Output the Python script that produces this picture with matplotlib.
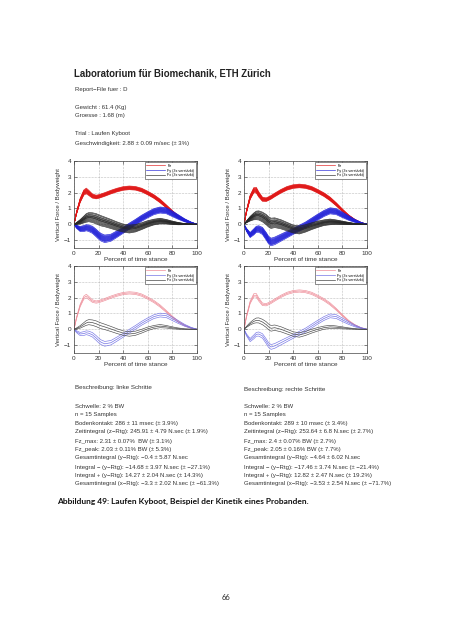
import matplotlib
matplotlib.use("Agg")
from matplotlib import pyplot as plt
import numpy as np

W, H = 453, 640

pct = [0, 2, 5, 8, 10, 12, 15, 18, 20, 22, 25, 30, 35, 40, 45, 50, 55, 60, 65, 70, 75, 80, 85, 90, 95, 100]

# left steps: mean curves (Fy, Fx 3x amplified) in bodyweight
fz_left = [0, 0.7, 1.5, 2.0, 2.1, 1.98, 1.78, 1.72, 1.75, 1.8, 1.88, 2.03, 2.16, 2.26, 2.3,
           2.27, 2.16, 1.97, 1.75, 1.47, 1.13, 0.78, 0.47, 0.24, 0.08, 0]
fy_left = [0, -0.15, -0.3, -0.27, -0.22, -0.25, -0.35, -0.55, -0.7, -0.82, -0.92, -0.85, -0.62,
           -0.38, -0.12, 0.12, 0.38, 0.6, 0.8, 0.9, 0.86, 0.66, 0.45, 0.25, 0.1, 0]
fx_left = [0, 0.05, 0.15, 0.3, 0.4, 0.45, 0.42, 0.35, 0.28, 0.22, 0.15, 0.02, -0.12, -0.24, -0.3,
           -0.25, -0.12, 0.03, 0.14, 0.2, 0.16, 0.09, 0.04, 0.01, 0, 0]

# right steps
fz_right = [0, 0.8, 1.7, 2.15, 2.15, 1.88, 1.58, 1.55, 1.62, 1.7, 1.85, 2.08, 2.27, 2.38, 2.42,
            2.38, 2.27, 2.08, 1.87, 1.6, 1.26, 0.88, 0.53, 0.27, 0.09, 0]
fy_right = [0, -0.35, -0.68, -0.48, -0.32, -0.3, -0.42, -0.75, -1.0, -1.12, -1.05, -0.85, -0.65,
            -0.45, -0.25, -0.05, 0.2, 0.45, 0.68, 0.85, 0.8, 0.6, 0.4, 0.22, 0.08, 0]
fx_right = [0, 0.15, 0.35, 0.5, 0.56, 0.56, 0.46, 0.3, 0.15, 0.06, 0.1, 0.0, -0.15, -0.3, -0.36,
            -0.26, -0.12, 0.0, 0.1, 0.15, 0.13, 0.09, 0.05, 0.02, 0, 0]

# standard deviations (same shape for both sides)
fz_sd = [0, 0.05, 0.08, 0.1, 0.11, 0.1, 0.08, 0.07, 0.07, 0.07, 0.07, 0.07, 0.07, 0.07, 0.07,
         0.07, 0.07, 0.07, 0.07, 0.07, 0.06, 0.05, 0.04, 0.03, 0.02, 0]
fy_sd = [0, 0.06, 0.1, 0.12, 0.12, 0.13, 0.14, 0.15, 0.15, 0.15, 0.15, 0.14, 0.13, 0.12, 0.12,
         0.12, 0.12, 0.12, 0.12, 0.12, 0.12, 0.11, 0.09, 0.06, 0.03, 0]
fx_sd = [0, 0.03, 0.08, 0.12, 0.15, 0.16, 0.17, 0.18, 0.18, 0.18, 0.17, 0.16, 0.15, 0.14, 0.14,
         0.13, 0.12, 0.11, 0.1, 0.1, 0.08, 0.06, 0.04, 0.02, 0.01, 0]

# where each of the 15 trials sits inside the band (in sd units)
trials_z = [-1.6, 0.4, -1.0, 1.3, -0.2, 0.8, -1.2, 0.0, 1.7, -0.6, 0.6, -0.4, 1.0, -0.8, 0.2]
trials_y = [0.6, -1.2, 1.0, -0.4, 1.6, -1.6, 0.2, -0.8, 1.3, 0.0, -0.2, 0.8, -1.0, 0.4, -0.6]
trials_x = [1.5, -0.9, 0.3, -1.5, 0.9, -0.3, 1.1, -1.2, 0.0, 0.6, -0.6, 1.8, -1.8, 0.4, -0.1]

legend_labels = ["Fz", "Fy (3x verst\u00e4rkt)", "Fx (3x verst\u00e4rkt)"]

header = [
    ("Report\u2212File fuer : D", 90),
    ("Gewicht : 61.4 (Kg)", 107),
    ("Groesse : 1.68 (m)", 116),
    ("Trial : Laufen Kyboot", 134),
    ("Geschwindigkeit: 2.88 \u00b1 0.09 m/sec (\u00b1 3%)", 143),
]
left_text = [
    "Schwelle: 2 % BW",
    "n = 15 Samples",
    "Bodenkontakt: 286 \u00b1 11 msec (\u00b1 3.9%)",
    "Zeitintegral (z\u2212Rtg): 245.91 \u00b1 4.79 N.sec (\u00b1 1.9%)",
    "Fz_max: 2.31 \u00b1 0.07%  BW (\u00b1 3.1%)",
    "Fz_peak: 2.03 \u00b1 0.11% BW (\u00b1 5.3%)",
    "Gesamtintegral (y\u2212Rtg): \u22120.4 \u00b1 5.87 N.sec",
    "Integral \u2212 (y\u2212Rtg): \u221214.68 \u00b1 3.97 N.sec (\u00b1 \u221227.1%)",
    "Integral + (y\u2212Rtg): 14.27 \u00b1 2.04 N.sec (\u00b1 14.3%)",
    "Gesamtintegral (x\u2212Rtg): \u22123.3 \u00b1 2.02 N.sec (\u00b1 \u221261.3%)",
]
right_text = [
    "Schwelle: 2 % BW",
    "n = 15 Samples",
    "Bodenkontakt: 289 \u00b1 10 msec (\u00b1 3.4%)",
    "Zeitintegral (z\u2212Rtg): 253.64 \u00b1 6.8 N.sec (\u00b1 2.7%)",
    "Fz_max: 2.4 \u00b1 0.07% BW (\u00b1 2.7%)",
    "Fz_peak: 2.05 \u00b1 0.16% BW (\u00b1 7.7%)",
    "Gesamtintegral (y\u2212Rtg): \u22124.64 \u00b1 6.02 N.sec",
    "Integral \u2212 (y\u2212Rtg): \u221217.46 \u00b1 3.74 N.sec (\u00b1 \u221221.4%)",
    "Integral + (y\u2212Rtg): 12.82 \u00b1 2.47 N.sec (\u00b1 19.2%)",
    "Gesamtintegral (x\u2212Rtg): \u22123.53 \u00b1 2.54 N.sec (\u00b1 \u221271.7%)",
]

plt.rcParams["font.family"] = ["Liberation Sans", "DejaVu Sans"]
TXT = "#333333"
fig = plt.figure(figsize=(W / 100, H / 100), dpi=100)


def px(x, y):
    return x / W, 1 - y / H


def setup_axes(ax):
    ax.set_xlim(0, 100)
    ax.set_ylim(-1.5, 4)
    ax.set_xticks(range(0, 101, 20))
    ax.set_yticks(range(-1, 5))
    ax.tick_params(labelsize=4.6, length=2, width=0.4, direction="in", pad=2,
                   colors=TXT, top=True, right=True)
    ax.grid(True, linestyle=":", linewidth=0.4, color="#888888")
    for s in ax.spines.values():
        s.set_linewidth(0.5)
        s.set_color("#444444")
    ax.set_xlabel("Percent of time stance", fontsize=4.6, color=TXT, labelpad=1)
    ax.set_ylabel("Vertical Force / Bodyweight", fontsize=4.3, color=TXT, labelpad=2)


def trials_plot(ax, fz, fy, fx, colors):
    hs = []
    for mean, sd, zs, c in [(fz, fz_sd, trials_z, colors[0]), (fy, fy_sd, trials_y, colors[1]),
                            (fx, fx_sd, trials_x, colors[2])]:
        mean, sd = np.array(mean), np.array(sd)
        for z in zs:
            h, = ax.plot(pct, mean + z * sd, color=c, linewidth=0.45)
        hs.append(h)
    return hs


def band_plot(ax, fz, fy, fx, colors):
    hs = []
    for mean, sd, c in [(fz, fz_sd, colors[0]), (fy, fy_sd, colors[1]), (fx, fx_sd, colors[2])]:
        mean, sd = np.array(mean), np.array(sd)
        h, = ax.plot(pct, mean, color=c, linewidth=0.5)
        ax.plot(pct, mean + sd, color=c, linewidth=0.45)
        ax.plot(pct, mean - sd, color=c, linewidth=0.45)
        hs.append(h)
    return hs


def add_legend(ax, hs):
    leg = ax.legend(hs, legend_labels, loc="upper right", fontsize=2.7, handlelength=5,
                    fancybox=False, framealpha=1, borderpad=0.4, labelspacing=0.25,
                    borderaxespad=0.3, handletextpad=0.6)
    leg.get_frame().set_linewidth(0.4)
    leg.get_frame().set_edgecolor("#333333")


strong = ["#e01818", "#2020d8", "#262626"]
light = ["#ee8c98", "#7474e6", "#4a4a4a"]

ax_w, ax_h = 123 / W, 87 / H
positions = {
    "tl": (74, 248), "tr": (244, 248),
    "bl": (74, 353), "br": (244, 353),
}
axes = {}
for key, (x0, y0) in positions.items():
    l, b = px(x0, y0)
    axes[key] = fig.add_axes([l, b, ax_w, ax_h])
    setup_axes(axes[key])

add_legend(axes["tl"], trials_plot(axes["tl"], fz_left, fy_left, fx_left, strong))
add_legend(axes["tr"], trials_plot(axes["tr"], fz_right, fy_right, fx_right, strong))
add_legend(axes["bl"], band_plot(axes["bl"], fz_left, fy_left, fx_left, light))
add_legend(axes["br"], band_plot(axes["br"], fz_right, fy_right, fx_right, light))

# header
fig.text(*px(74, 73), "Laboratorium f\u00fcr Biomechanik, ETH Z\u00fcrich", fontsize=6.9,
         fontweight="bold", color="#222222", va="center")
for s, y in header:
    fig.text(*px(75, y), s, fontsize=4.35, color=TXT, va="center")

# descriptions
fig.text(*px(75, 388), "Beschreibung: linke Schritte", fontsize=4.5, color=TXT, va="center")
fig.text(*px(244, 389), "Beschreibung: rechte Schritte", fontsize=4.5, color=TXT, va="center")
line_y = [406, 414.5, 423, 432, 441, 450, 458, 467, 475, 483]
for s, y in zip(left_text, line_y):
    fig.text(*px(75, y), s, fontsize=4.35, color=TXT, va="center")
for s, y in zip(right_text, line_y):
    fig.text(*px(244, y), s, fontsize=4.35, color=TXT, va="center")

fig.text(*px(57, 501), "Abbildung 49: Laufen Kyboot, Beispiel der Kinetik eines Probanden.",
         fontsize=6.0, fontweight="bold", family=["Lato", "DejaVu Sans"], color="#111111",
         va="center")
fig.text(*px(226.5, 597), "66", fontsize=5.5, family=["Lato", "DejaVu Sans"], color="#222222",
         ha="center", va="center")

fig.savefig("out.png", dpi=100, facecolor="white")
